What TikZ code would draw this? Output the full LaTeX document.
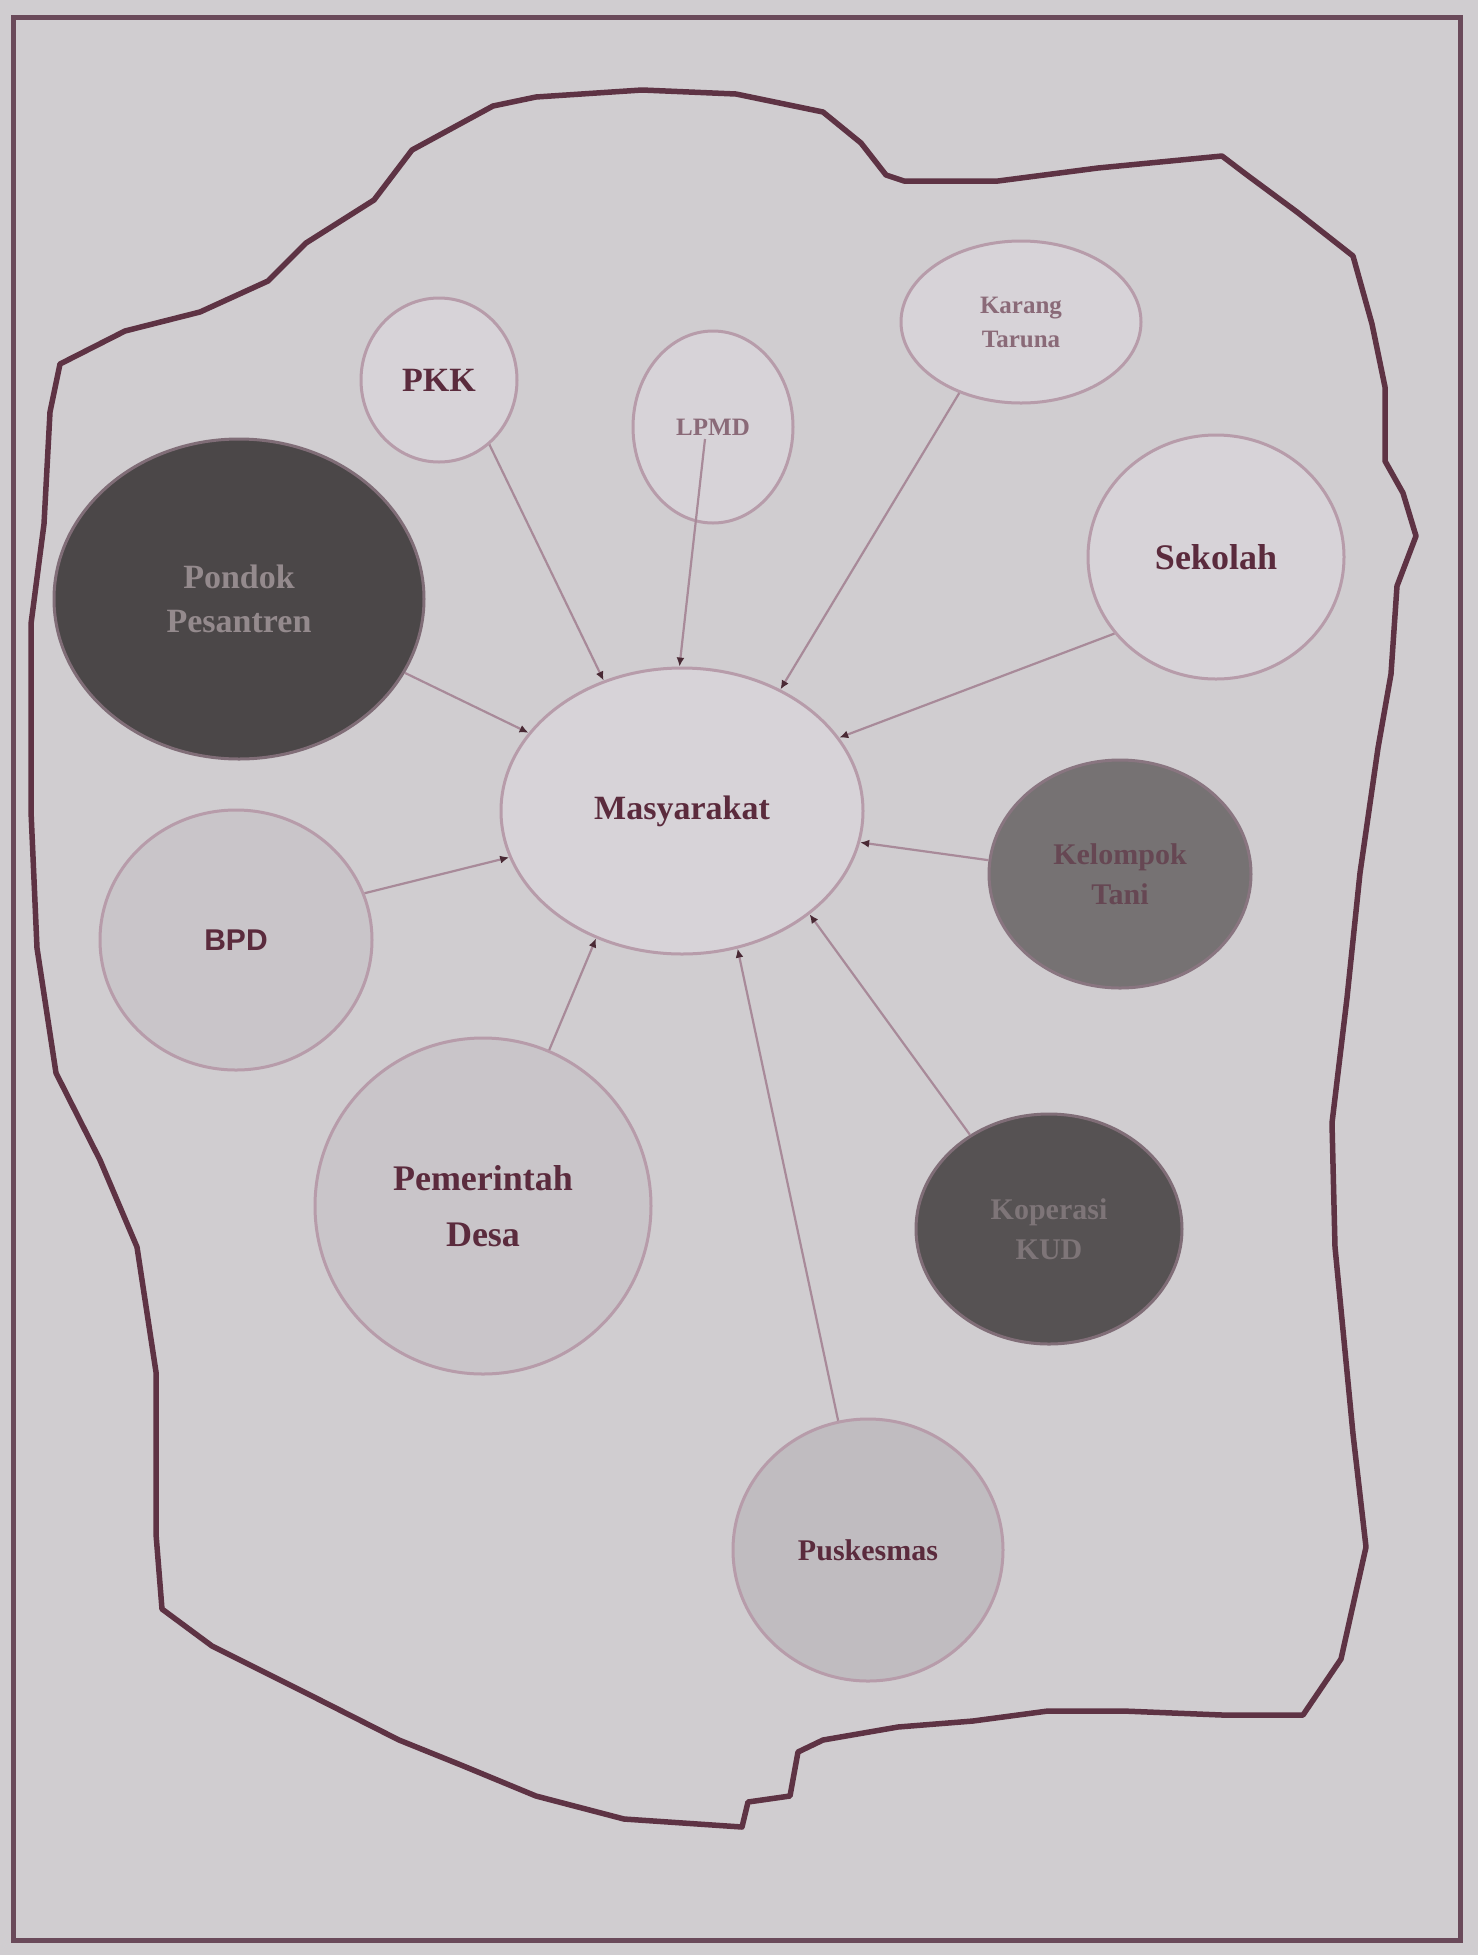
\documentclass[tikz,border=0pt]{standalone}
\usepackage{fontspec}
\setmainfont{Liberation Serif}
\newfontfamily\arialf{Liberation Sans}
\usetikzlibrary{shapes.geometric,arrows.meta,calc}
\definecolor{bg}{HTML}{D0CDD0}
\definecolor{framec}{HTML}{6A4A5A}
\definecolor{outl}{HTML}{5E3344}
\definecolor{lightn}{HTML}{D7D3D8}
\definecolor{midn}{HTML}{C9C5C9}
\definecolor{midn2}{HTML}{C0BCC0}
\definecolor{bordn}{HTML}{B79CAA}
\definecolor{darkA}{HTML}{4B4748}
\definecolor{darkB}{HTML}{767273}
\definecolor{darkC}{HTML}{565253}
\definecolor{txt}{HTML}{5B2B3D}
\definecolor{ltxt}{HTML}{8A6A78}
\definecolor{dtxt}{HTML}{948A8D}
\definecolor{linkc}{HTML}{A88A99}
\definecolor{tipc}{HTML}{4A2A35}
\tikzset{
  org/.style={ellipse, draw=bordn, line width=3pt, inner sep=0pt, align=center,
    text=txt, font=\bfseries\fontsize{34}{44}\selectfont},
  link/.style={draw=linkc, line width=2.2pt, -{Latex[length=9pt,width=8pt,color=tipc]}},
  outline/.style={draw=outl, line width=5.5pt, line join=round}
}
\begin{document}
\begin{tikzpicture}[x=1pt,y=-1pt]
\useasboundingbox (0,0) rectangle (1478,1955);
\fill[bg] (0,0) rectangle (1478,1955);
\draw[framec, line width=5pt] (13,17) rectangle (1460,1940);
% irregular boundary
\draw[outline] (60,364) -- (125,331) -- (200,312) -- (268,281) -- (306,243) -- (374,200)
 -- (412,150) -- (493,106) -- (536,97) -- (642,90) -- (736,94) -- (823,112) -- (861,143)
 -- (886,175) -- (904,181) -- (998,181) -- (1098,168) -- (1222,156) -- (1247,175)
 -- (1297,212) -- (1353,256) -- (1372,324) -- (1385,387) -- (1385,461) -- (1403,493)
 -- (1416,536) -- (1397,586) -- (1391,674) -- (1378,748) -- (1360,873) -- (1347,998)
 -- (1332,1123) -- (1335,1247) -- (1353,1434) -- (1366,1547) -- (1341,1659) -- (1303,1715)
 -- (1222,1715) -- (1123,1711) -- (1048,1711) -- (973,1721) -- (898,1727) -- (823,1740)
 -- (798,1752) -- (790,1796) -- (748,1802) -- (742,1827) -- (624,1819) -- (536,1796)
 -- (461,1765) -- (399,1740) -- (312,1696) -- (212,1646) -- (162,1609) -- (156,1534)
 -- (156,1372) -- (137,1247) -- (100,1160) -- (56,1073) -- (37,948) -- (31,811)
 -- (31,624) -- (44,524) -- (50,412) -- cycle;
% nodes
\node[org, fill=lightn, minimum width=362pt, minimum height=286pt] (mas) at (682,811) {Masyarakat};
\node[org, fill=lightn, minimum width=156pt, minimum height=164pt] (pkk) at (439,380) {PKK};
\node[org, fill=lightn, minimum width=160pt, minimum height=192pt, text=ltxt, font=\bfseries\fontsize{25}{30}\selectfont] (lpmd) at (713,427) {LPMD};
\node[org, fill=lightn, minimum width=240pt, minimum height=162pt, text=ltxt, font=\bfseries\fontsize{25}{34}\selectfont] (kt) at (1021,322) {Karang\\Taruna};
\node[org, fill=lightn, minimum width=256pt, minimum height=244pt, font=\bfseries\fontsize{36}{44}\selectfont] (sek) at (1216,557) {Sekolah};
\node[org, fill=darkA, draw=bordn!70!black, minimum width=370pt, minimum height=320pt, text=dtxt] (pon) at (239,599) {Pondok\\Pesantren};
\node[org, fill=midn, minimum width=272pt, minimum height=260pt, font=\arialf\bfseries\fontsize{30}{36}\selectfont] (bpd) at (236,940) {BPD};
\node[org, fill=darkB, draw=bordn!75!black, minimum width=262pt, minimum height=228pt, font=\bfseries\fontsize{30}{40}\selectfont, text=txt!60!darkB] (kel) at (1120,874) {Kelompok\\Tani};
\node[org, fill=midn, minimum width=336pt, minimum height=336pt, font=\bfseries\fontsize{36}{56}\selectfont] (pem) at (483,1206) {Pemerintah\\Desa};
\node[org, fill=darkC, draw=bordn!70!black, minimum width=266pt, minimum height=230pt, font=\bfseries\fontsize{30}{40}\selectfont, text=dtxt!85!black] (kop) at (1049,1229) {Koperasi\\KUD};
\node[org, fill=midn2, minimum width=270pt, minimum height=262pt, font=\bfseries\fontsize{30}{36}\selectfont] (pus) at (868,1550) {Puskesmas};
% connectors
\draw[link] (pkk.-52) -- (mas.121);
\draw[link] ([xshift=-8pt,yshift=-12pt]lpmd.center) -- (mas.91);
\draw[link] (kt.-131) -- (mas.51);
\draw[link] (sek.-143) -- (mas.25);
\draw[link] (pon.-24) -- (mas.153);
\draw[link] (bpd.20) -- (mas.195);
\draw[link] (kel.174) -- (mas.-10);
\draw[link] (pem.67) -- (mas.-124);
\draw[link] (kop.130) -- (mas.-39);
\draw[link] (pus.103) -- (mas.-68);
\end{tikzpicture}
\end{document}
